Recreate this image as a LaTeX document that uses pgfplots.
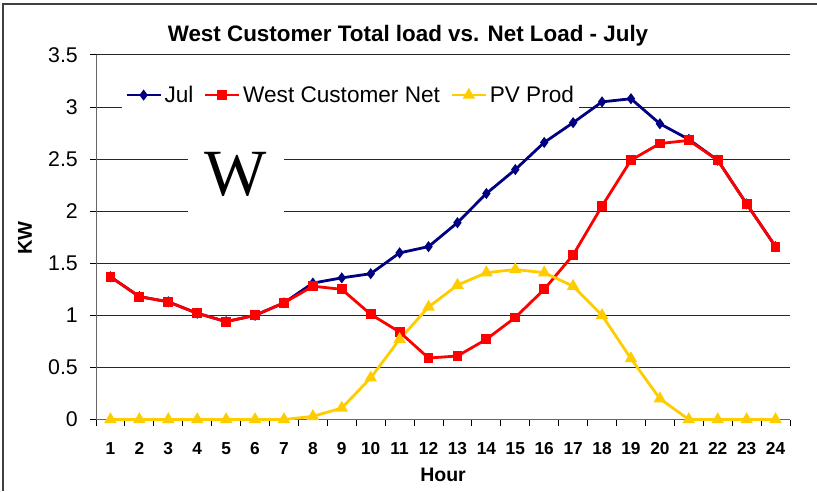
\documentclass[border=0pt]{standalone}
\usepackage{pgfplots}
\usepackage{pgfplotstable}
\pgfplotsset{compat=1.18}
\usepackage{fontspec}
\setmainfont{Liberation Sans}
\newfontfamily\seriffont{Liberation Serif}
\definecolor{julblue}{HTML}{000080}
\definecolor{netred}{HTML}{FF0000}
\definecolor{pvyellow}{HTML}{FFCC00}

\pgfplotstableread{
h jul net pv
1 1.37 1.37 0
2 1.18 1.18 0
3 1.13 1.13 0
4 1.02 1.02 0
5 0.94 0.94 0
6 1.00 1.00 0
7 1.12 1.12 0
8 1.31 1.28 0.03
9 1.36 1.25 0.11
10 1.40 1.01 0.40
11 1.60 0.84 0.77
12 1.66 0.59 1.08
13 1.89 0.61 1.29
14 2.17 0.77 1.41
15 2.40 0.98 1.44
16 2.66 1.25 1.41
17 2.85 1.58 1.28
18 3.05 2.05 1.00
19 3.08 2.49 0.585
20 2.84 2.65 0.20
21 2.69 2.68 0
22 2.49 2.49 0
23 2.07 2.07 0
24 1.66 1.66 0
}\loadtable

\begin{document}
\begin{tikzpicture}
\useasboundingbox (0pt,0pt) rectangle (817pt,491pt);
\draw[line width=2pt, black!75] (2.5pt,0pt) -- (2.5pt,487pt) -- (817pt,487pt);
\node[anchor=base, font=\bfseries\fontsize{22.4}{26}\selectfont] at (408pt,449.3pt) {West Customer Total load vs. Net Load - July};
\node[anchor=base, font=\bfseries\fontsize{19.5}{23}\selectfont] at (443pt,9.3pt) {Hour};
\node[rotate=90, font=\bfseries\fontsize{20}{24}\selectfont] at (25pt,253pt) {KW};
\begin{axis}[
  at={(96pt,71.5pt)}, anchor=south west,
  scale only axis, width=694pt, height=364.5pt,
  xmin=0.5, xmax=24.5, ymin=0, ymax=3.5,
  clip=false,
  axis lines=left,
  axis line style={-, line width=1pt, black!60},
  tick align=outside,
  major tick length=6pt,
  tick style={line width=1pt, black},
  xtick={0.5,1.5,...,24.5},
  xticklabels={1,2,3,4,5,6,7,8,9,10,11,12,13,14,15,16,17,18,19,20,21,22,23,24,{}},
  xticklabel style={font=\bfseries\fontsize{17.3}{20}\selectfont, xshift=14.46pt, yshift=-17pt, anchor=north, inner sep=0pt},
  ytick={0,0.5,...,3.5},
  yticklabel style={font=\fontsize{21.3}{24}\selectfont, anchor=east, inner sep=0pt, xshift=-12pt},
  /pgf/number format/assume math mode=true,
  ymajorgrids,
  grid style={line width=1pt, black!85},
  legend columns=3,
  legend style={at={(0.0375,0.890)}, anchor=west, draw=none, fill=white,
    font=\fontsize{22.6}{26}\selectfont, nodes={inner sep=2.5pt},
    /tikz/every even column/.append style={column sep=8pt}},
  legend image code/.code={\draw[mark repeat=2,mark phase=2] plot coordinates {(0pt,0pt) (17pt,0pt) (34pt,0pt)};},
]
\addplot[color=julblue, line width=2.8pt, mark=diamond*, mark size=3.3pt, mark options={solid}] table[x=h,y=jul] {\loadtable};
\addlegendentry{Jul}
\addplot[color=netred, line width=2.8pt, mark=square*, mark size=3.5pt] table[x=h,y=net] {\loadtable};
\addlegendentry{West Customer Net}
\addplot[color=pvyellow, line width=2.8pt, mark=triangle*, mark size=4.5pt] table[x=h,y=pv] {\loadtable};
\addlegendentry{PV Prod}
\node[fill=white, minimum width=96pt, minimum height=90pt, inner sep=0pt, font=\seriffont\fontsize{66}{70}\selectfont] at (axis cs:5.34,2.35) {W};
\end{axis}
\end{tikzpicture}
\end{document}
